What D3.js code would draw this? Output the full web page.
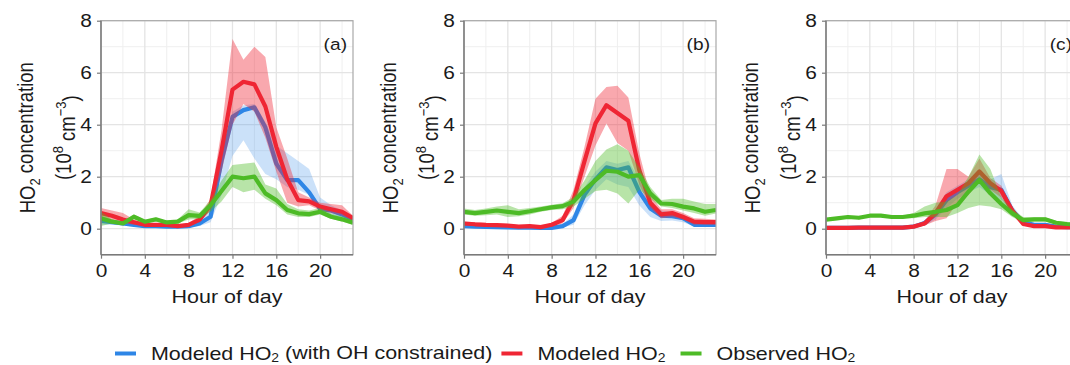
<!DOCTYPE html>
<html>
  <head>
    <meta http-equiv="Content-Type" content="text/html; charset=UTF-8" />
    <title>HO2 diurnal</title>
    <script src="https://cdn.jsdelivr.net/npm/d3@7"></script>
    <style>
      body { margin: 0; background: #ffffff; }
      text { font-family: "Liberation Sans", Arial, sans-serif; fill: #1a1a1a; }
    </style>
  </head>
  <body>
    <svg width="1070" height="365" id="mainsvg" style="background-color: #ffffff;"></svg>
    <script>
        // data (hour 0..23), three sites (a) (b) (c)
        const hours = [0,1,2,3,4,5,6,7,8,9,10,11,12,13,14,15,16,17,18,19,20,21,22,23];
        const xTicks = [0, 4, 8, 12, 16, 20];
        const yTicks = [0, 2, 4, 6, 8];
        const panelNames = ['(a)', '(b)', '(c)'];
        const seriesNames = ['Modeled HO2 (with OH constrained)', 'Modeled HO2', 'Observed HO2'];

        // panel (a)
        const blueA   = [0.30,0.25,0.20,0.15,0.10,0.10,0.08,0.08,0.10,0.20,0.46,2.60,4.30,4.56,4.67,3.90,2.50,1.87,1.87,1.40,0.75,0.70,0.55,0.35];
        const blueLoA = [0.15,0.15,0.12,0.08,0.05,0.05,0.04,0.04,0.05,0.10,0.25,1.30,2.80,3.40,2.70,2.10,1.90,1.60,1.50,1.30,0.60,0.50,0.35,0.22];
        const blueHiA = [0.45,0.35,0.28,0.20,0.15,0.14,0.12,0.12,0.15,0.30,0.75,2.90,4.50,4.75,4.80,4.10,3.20,2.90,2.60,2.30,1.20,0.90,0.70,0.45];
        const redA    = [0.60,0.50,0.35,0.25,0.15,0.15,0.15,0.10,0.15,0.35,0.90,3.00,5.35,5.65,5.55,4.70,3.15,1.90,1.10,1.05,0.85,0.75,0.65,0.40];
        const redLoA  = [0.45,0.30,0.20,0.15,0.10,0.10,0.10,0.06,0.10,0.25,0.70,2.20,4.00,4.80,4.50,3.50,2.20,1.00,0.85,0.90,0.70,0.60,0.50,0.30];
        const redHiA  = [0.80,0.70,0.60,0.35,0.22,0.20,0.20,0.15,0.22,0.50,1.15,3.80,7.30,6.50,7.00,6.60,3.90,2.70,1.40,1.20,1.00,0.95,0.90,0.50];
        const greenA   = [0.40,0.27,0.20,0.46,0.27,0.36,0.24,0.27,0.52,0.49,0.90,1.45,2.00,1.94,2.00,1.36,1.10,0.72,0.59,0.56,0.65,0.46,0.36,0.23];
        const greenLoA = [0.10,0.20,0.15,0.38,0.20,0.30,0.18,0.20,0.35,0.38,0.65,1.05,1.60,1.40,1.50,1.15,0.90,0.55,0.45,0.45,0.55,0.38,0.28,0.15];
        const greenHiA = [0.65,0.35,0.28,0.55,0.33,0.42,0.30,0.35,0.75,0.62,1.10,1.85,2.45,2.50,2.55,1.70,1.55,0.95,0.75,0.70,0.80,0.58,0.48,0.33];

        // panel (b)
        const blueB   = [0.10,0.08,0.07,0.06,0.05,0.04,0.04,0.03,0.03,0.10,0.33,1.30,1.90,2.36,2.26,2.36,1.42,0.78,0.50,0.48,0.40,0.15,0.15,0.15];
        const blueLoB = [0.05,0.04,0.03,0.03,0.02,0.02,0.02,0.01,0.01,0.05,0.15,0.90,1.50,1.90,1.70,1.60,0.90,0.45,0.30,0.32,0.25,0.08,0.08,0.08];
        const blueHiB = [0.16,0.13,0.12,0.10,0.09,0.08,0.08,0.06,0.06,0.18,0.55,1.60,2.20,2.60,2.50,2.60,1.90,1.05,0.70,0.62,0.55,0.25,0.24,0.24];
        const redB    = [0.20,0.17,0.15,0.14,0.12,0.08,0.10,0.06,0.15,0.33,1.10,2.60,4.05,4.75,4.45,4.15,2.25,1.00,0.55,0.60,0.45,0.27,0.25,0.25];
        const redLoB  = [0.12,0.10,0.10,0.08,0.07,0.04,0.06,0.03,0.08,0.20,0.80,2.00,3.20,4.05,3.30,3.00,1.70,0.80,0.40,0.45,0.35,0.15,0.15,0.15];
        const redHiB  = [0.28,0.25,0.22,0.20,0.18,0.12,0.15,0.10,0.22,0.50,1.50,3.15,5.00,5.45,5.50,5.05,2.90,1.30,0.75,0.75,0.60,0.40,0.38,0.35];
        const greenB   = [0.65,0.60,0.65,0.70,0.65,0.60,0.67,0.75,0.82,0.87,1.04,1.49,1.87,2.23,2.19,2.00,2.06,1.36,0.97,0.95,0.85,0.78,0.65,0.72];
        const greenLoB = [0.55,0.50,0.52,0.55,0.45,0.48,0.55,0.65,0.72,0.75,0.85,1.15,1.45,1.50,1.35,0.97,1.50,1.15,0.85,0.80,0.70,0.60,0.50,0.58];
        const greenHiB = [0.78,0.72,0.78,0.85,0.90,0.75,0.80,0.85,0.92,0.98,1.22,1.85,2.60,3.05,3.25,3.00,2.35,1.60,1.10,1.15,1.15,1.05,0.95,0.95];

        // panel (c)
        const blueC   = [0.03,0.03,0.03,0.04,0.04,0.04,0.04,0.04,0.08,0.22,0.55,1.10,1.40,1.65,1.90,1.60,1.50,0.70,0.25,0.15,0.15,0.08,0.06,0.06];
        const blueLoC = [0.01,0.01,0.01,0.02,0.02,0.02,0.02,0.02,0.05,0.12,0.35,0.80,1.15,1.40,1.60,1.30,1.10,0.50,0.15,0.08,0.08,0.03,0.02,0.02];
        const blueHiC = [0.06,0.06,0.06,0.07,0.07,0.07,0.07,0.07,0.12,0.32,0.75,1.40,1.65,1.90,2.20,1.90,2.10,0.90,0.35,0.22,0.22,0.12,0.10,0.10];
        const redC    = [0.03,0.03,0.03,0.04,0.04,0.04,0.04,0.04,0.08,0.20,0.60,1.25,1.50,1.75,2.20,1.75,1.45,0.70,0.18,0.10,0.10,0.05,0.05,0.05];
        const redLoC  = [0.01,0.01,0.01,0.02,0.02,0.02,0.02,0.02,0.05,0.12,0.30,0.40,1.00,1.30,1.80,1.50,1.20,0.55,0.12,0.06,0.06,0.02,0.02,0.02];
        const redHiC  = [0.06,0.06,0.06,0.07,0.07,0.07,0.07,0.07,0.12,0.30,0.90,2.30,2.30,2.00,2.70,1.95,1.65,0.85,0.25,0.15,0.15,0.09,0.09,0.09];
        const greenC   = [0.35,0.40,0.45,0.42,0.50,0.50,0.45,0.45,0.50,0.59,0.65,0.72,0.91,1.42,1.87,1.36,0.95,0.59,0.33,0.36,0.36,0.23,0.18,0.15];
        const greenLoC = [0.30,0.35,0.40,0.37,0.45,0.45,0.40,0.40,0.40,0.45,0.45,0.45,0.60,0.80,0.90,0.85,0.75,0.45,0.25,0.28,0.28,0.17,0.12,0.10];
        const greenHiC = [0.40,0.45,0.50,0.47,0.55,0.55,0.50,0.50,0.60,0.85,1.00,1.05,1.30,2.00,2.85,2.30,1.20,0.75,0.45,0.44,0.44,0.30,0.25,0.20];

        const panels = [
          {mean: [blueA, redA, greenA], lo: [blueLoA, redLoA, greenLoA], hi: [blueHiA, redHiA, greenHiA]},
          {mean: [blueB, redB, greenB], lo: [blueLoB, redLoB, greenLoB], hi: [blueHiB, redHiB, greenHiB]},
          {mean: [blueC, redC, greenC], lo: [blueLoC, redLoC, greenLoC], hi: [blueHiC, redHiC, greenHiC]}
        ];

        const lineColors = ['#2e86e6', '#ef2634', '#4dbb26'];
        const bandOpacity = [0.25, 0.4, 0.4];

        const svg = d3.select('#mainsvg');
        const sx = 1.16;               // the figure is stretched sideways, so text is too
        const panelLeft = [101, 464, 826];
        const panelWidth = 252;
        const plotTop = 20.7, plotBottom = 254.7;

        const yScale = d3.scaleLinear().domain([-1, 8]).range([plotBottom, plotTop]);

        panels.forEach((p, k) => {
          const xScale = d3.scaleLinear().domain([0, 23]).range([panelLeft[k], panelLeft[k] + panelWidth]);
          const g = svg.append('g').attr('class', 'panel');

          // grid, minor first then major
          const minorX = [2, 6, 10, 14, 18, 22], minorY = [1, 3, 5, 7];
          g.selectAll('.vminor').data(minorX).enter().append('line')
            .attr('x1', d => xScale(d)).attr('x2', d => xScale(d))
            .attr('y1', plotTop).attr('y2', plotBottom)
            .attr('stroke', '#efefef').attr('stroke-width', 1);
          g.selectAll('.hminor').data(minorY).enter().append('line')
            .attr('x1', xScale(0)).attr('x2', xScale(23))
            .attr('y1', d => yScale(d)).attr('y2', d => yScale(d))
            .attr('stroke', '#efefef').attr('stroke-width', 1);
          g.selectAll('.vmajor').data(xTicks).enter().append('line')
            .attr('x1', d => xScale(d)).attr('x2', d => xScale(d))
            .attr('y1', plotTop).attr('y2', plotBottom)
            .attr('stroke', '#e4e4e4').attr('stroke-width', 1.3);
          g.selectAll('.hmajor').data(yTicks).enter().append('line')
            .attr('x1', xScale(0)).attr('x2', xScale(23))
            .attr('y1', d => yScale(d)).attr('y2', d => yScale(d))
            .attr('stroke', '#e4e4e4').attr('stroke-width', 1.3);

          // clip the series to the panel
          svg.append('clipPath').attr('id', 'clip' + k).append('rect')
            .attr('x', xScale(0)).attr('y', plotTop)
            .attr('width', panelWidth).attr('height', plotBottom - plotTop);
          const dg = g.append('g').attr('clip-path', `url(#clip${k})`);

          const area = d3.area()
            .x((d, i) => xScale(hours[i]))
            .y0(d => yScale(d[0]))
            .y1(d => yScale(d[1]));
          const line = d3.line()
            .x((d, i) => xScale(hours[i]))
            .y(d => yScale(d));

          p.mean.forEach((m, j) => {
            const band = hours.map((h, i) => [p.lo[j][i], p.hi[j][i]]);
            dg.append('path').attr('d', area(band))
              .attr('fill', lineColors[j]).attr('fill-opacity', bandOpacity[j]);
            dg.append('path').attr('d', line(m))
              .attr('fill', 'none').attr('stroke', lineColors[j])
              .attr('stroke-width', 4.2).attr('stroke-linejoin', 'round');
          });

          // border (top / right light)
          g.append('rect')
            .attr('x', xScale(0)).attr('y', plotTop)
            .attr('width', panelWidth).attr('height', plotBottom - plotTop)
            .attr('fill', 'none').attr('stroke', '#a8a8a8').attr('stroke-width', 1.2);

          // axes
          const yAxis = d3.axisLeft(yScale).tickValues(yTicks).tickSize(4).tickPadding(3.8);
          const xAxis = d3.axisBottom(xScale).tickValues(xTicks).tickSize(4).tickPadding(6);
          const yg = g.append('g').attr('transform', `translate(${xScale(0)},0)`).call(yAxis);
          const xg = g.append('g').attr('transform', `translate(0,${plotBottom})`).call(xAxis);
          [yg, xg].forEach(ax => {
            ax.select('.domain').attr('stroke', '#7a7a7a').attr('stroke-width', 1.4);
            ax.selectAll('.tick line').attr('stroke', '#7a7a7a').attr('stroke-width', 1.2);
            ax.selectAll('.tick text')
              .attr('font-size', '18px')
              .attr('font-family', '"Liberation Sans", Arial, sans-serif')
              .attr('fill', '#1a1a1a')
              .attr('transform', `scale(${sx},1)`);
          });
          yg.selectAll('.domain').attr('d', `M0,${plotBottom}V${plotTop}`);
          xg.selectAll('.domain').attr('d', `M${xScale(0)},0H${xScale(23)}`);

          // panel label
          g.append('text')
            .attr('transform', `translate(${xScale(23) - 6},50) scale(${sx},1)`)
            .attr('text-anchor', 'end')
            .attr('font-size', '16.5px')
            .text(panelNames[k]);

          // x title
          g.append('text')
            .attr('transform', `translate(${(xScale(0) + xScale(23)) / 2},303) scale(${sx},1)`)
            .attr('text-anchor', 'middle')
            .attr('font-size', '18.5px')
            .text('Hour of day');

          // y title, two lines
          const yc = (plotTop + plotBottom) / 2;
          const t1 = g.append('text')
            .attr('transform', `translate(${xScale(0) - 66},${yc}) scale(${sx},1) rotate(-90)`)
            .attr('text-anchor', 'middle')
            .attr('font-size', '18.5px');
          t1.append('tspan').text('HO');
          t1.append('tspan').attr('font-size', '13px').attr('dy', '0.3em').text('2');
          t1.append('tspan').attr('dy', '-0.3em').text(' concentration');

          const t2 = g.append('text')
            .attr('transform', `translate(${xScale(0) - 30},${yc}) scale(${sx},1) rotate(-90)`)
            .attr('text-anchor', 'middle')
            .attr('font-size', '18.5px');
          t2.append('tspan').text('(10');
          t2.append('tspan').attr('font-size', '13px').attr('dy', '-0.55em').text('8');
          t2.append('tspan').attr('dy', '0.55em').text(' cm');
          t2.append('tspan').attr('font-size', '13px').attr('dy', '-0.55em').text('\u22123');
          t2.append('tspan').attr('dy', '0.55em').text(')');
        });

        // legend along the bottom
        const legend = svg.append('g').attr('class', 'legend');
        let lx = 115;
        const ly = 353.5;
        const gaps = [9, 15, 0];
        seriesNames.forEach((name, j) => {
          legend.append('line')
            .attr('x1', lx).attr('x2', lx + 21)
            .attr('y1', ly).attr('y2', ly)
            .attr('stroke', lineColors[j]).attr('stroke-width', 4);
          const t = legend.append('text')
            .attr('transform', `translate(${lx + 36},360) scale(${sx},1)`)
            .attr('font-size', '18.5px');
          const parts = name.split('HO2');
          t.append('tspan').text(parts[0] + 'HO');
          t.append('tspan').attr('font-size', '12px').attr('dy', '0.2em').text('2');
          t.append('tspan').attr('dy', '-0.2em').text(parts[1]);
          const w = t.node().getComputedTextLength() * sx;
          lx = lx + 36 + w + gaps[j];
        });
    </script>
</body>
</html>
